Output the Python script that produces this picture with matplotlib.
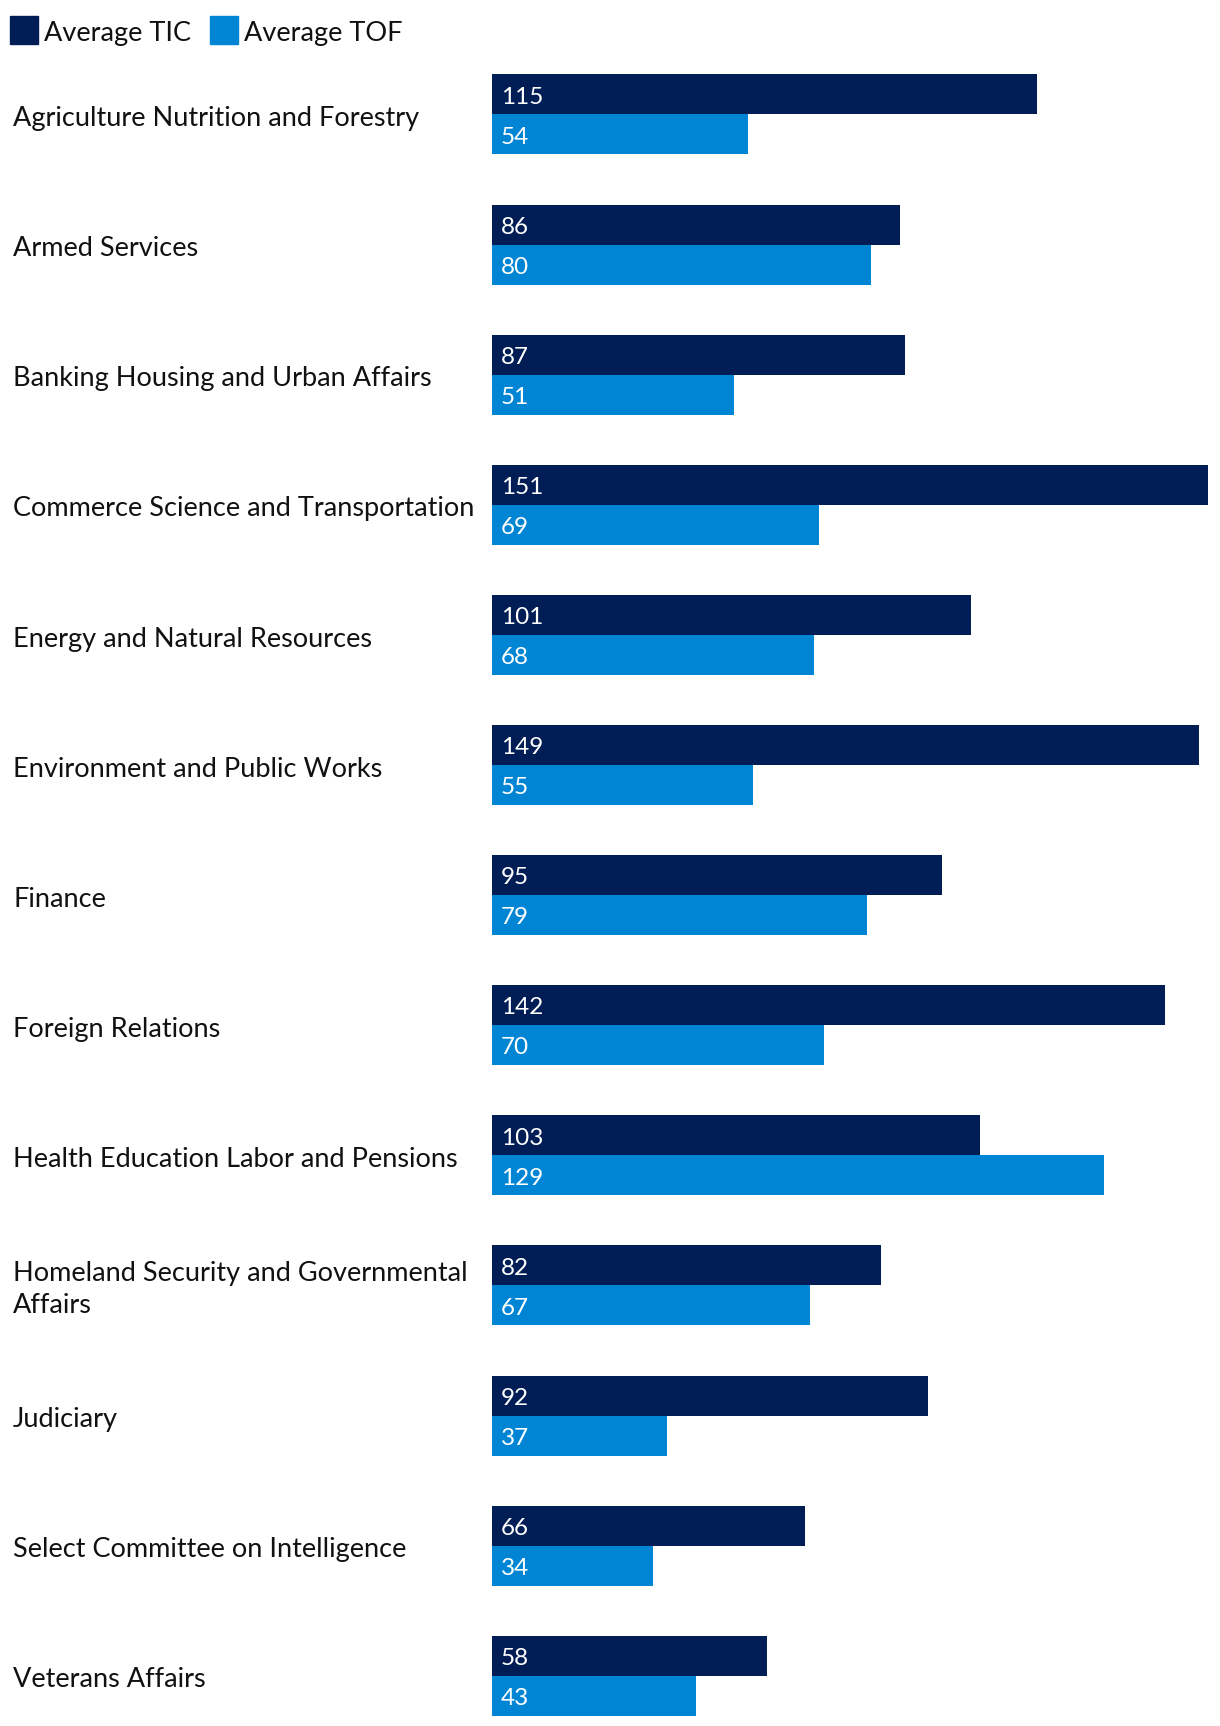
import matplotlib
matplotlib.use("Agg")
import matplotlib.pyplot as plt
from matplotlib.patches import Rectangle
from matplotlib.transforms import blended_transform_factory, offset_copy

categories = [
    "Agriculture Nutrition and Forestry",
    "Armed Services",
    "Banking Housing and Urban Affairs",
    "Commerce Science and Transportation",
    "Energy and Natural Resources",
    "Environment and Public Works",
    "Finance",
    "Foreign Relations",
    "Health Education Labor and Pensions",
    "Homeland Security and Governmental\nAffairs",
    "Judiciary",
    "Select Committee on Intelligence",
    "Veterans Affairs",
]
avg_tic = [115, 86, 87, 151, 101, 149, 95, 142, 103, 82, 92, 66, 58]
avg_tof = [54, 80, 51, 69, 68, 55, 79, 70, 129, 67, 37, 34, 43]
series_names = ["Average TIC", "Average TOF"]

DARK = "#001e55"
LIGHT = "#0085d5"
FONT = "Lato"

W, H = 1220, 1726
fig = plt.figure(figsize=(W / 100, H / 100), dpi=100)

# axes from bar origin to right edge; y in "group" units
x0 = 492
ax = fig.add_axes([x0 / W, 0, (W - x0) / W, 1])
px_per_unit = (1208 - x0) / 151
ax.set_xlim(0, (W - x0) / px_per_unit)
row = 130.1
top_c = 114.5
ax.set_ylim((H - top_c) / row, -top_c / row)
ax.axis("off")

bh = 40 / row
n = len(categories)
ys = list(range(n))
ax.barh([y - bh / 2 for y in ys], avg_tic, height=bh, color=DARK)
ax.barh([y + bh / 2 for y in ys], avg_tof, height=bh, color=LIGHT)

vtr = offset_copy(ax.transData, fig=fig, y=-2, units="points")
for y, a, b in zip(ys, avg_tic, avg_tof):
    ax.text(9 / px_per_unit, y - bh / 2, str(a), color="white", transform=vtr,
            fontsize=17.5, family=FONT, va="center", ha="left")
    ax.text(9 / px_per_unit, y + bh / 2, str(b), color="white", transform=vtr,
            fontsize=17.5, family=FONT, va="center", ha="left")

tr = blended_transform_factory(fig.transFigure, ax.transData)
tr = offset_copy(tr, fig=fig, y=-3, units="points")
for y, c in zip(ys, categories):
    fig.text(13 / W, y, c, transform=tr, fontsize=19.5, family=FONT,
             va="center", ha="left", color="#111111", linespacing=1.36)

# legend
for (lx, name, col) in [(10, series_names[0], DARK), (210, series_names[1], LIGHT)]:
    fig.patches.append(Rectangle((lx / W, 1 - 44 / H), 28 / W, 28 / H,
                                 transform=fig.transFigure, color=col))
    fig.text((lx + 34) / W, 1 - 33 / H, name, fontsize=19.5, family=FONT,
             va="center", ha="left", color="#111111")

fig.savefig("out.png", dpi=100)
